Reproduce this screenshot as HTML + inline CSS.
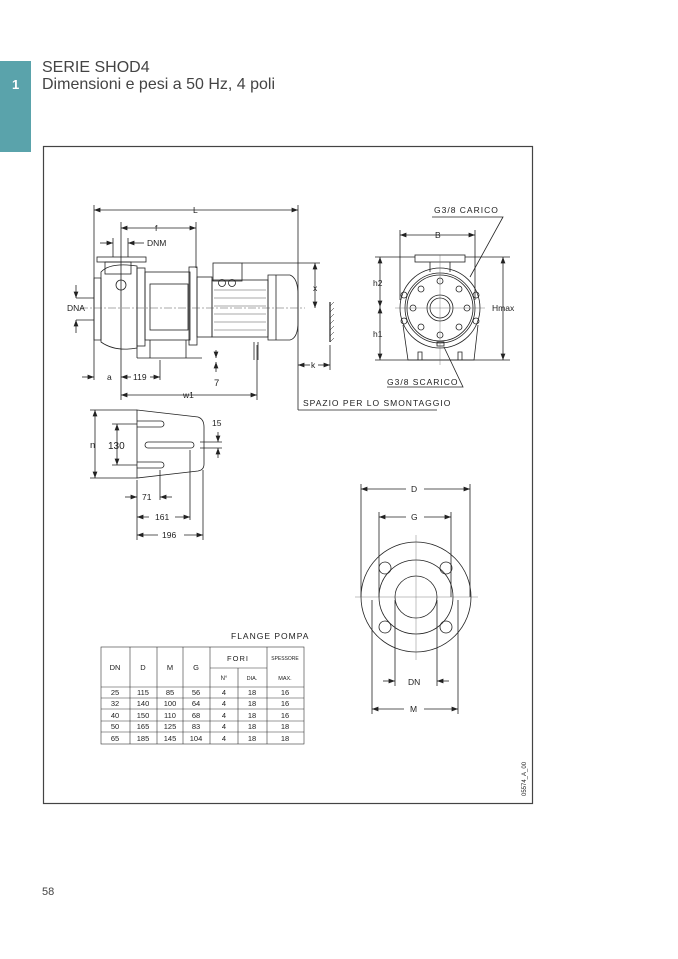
<!DOCTYPE html>
<html><head><meta charset="utf-8"><style>
html,body{margin:0;padding:0;background:#fff;}
body{width:678px;height:959px;position:relative;overflow:hidden;font-family:"Liberation Sans",sans-serif;}
.bar{position:absolute;left:0;top:61px;width:31px;height:91px;background:#5aa3ab;}
.num{position:absolute;left:12px;top:77px;color:#fff;font-weight:bold;font-size:13px;}
.t1{position:absolute;left:42px;top:59px;font-size:16px;color:#444;line-height:17px;}
.pg{position:absolute;left:42px;top:886px;font-size:11px;color:#444;}
svg{position:absolute;left:0;top:0;}
text{font-family:"Liberation Sans",sans-serif;fill:#222;}
</style></head><body>
<div class="bar"></div><div class="num">1</div>
<div class="t1">SERIE SHOD4<br>Dimensioni e pesi a 50 Hz, 4 poli</div>
<div class="pg">58</div>
<svg width="678" height="959" viewBox="0 0 678 959" font-size="8.5">
<defs><marker id="a" viewBox="0 0 8 6" refX="8" refY="3" markerWidth="8" markerHeight="6" orient="auto-start-reverse"><path d="M0,0L8,3L0,6z" fill="#222"/></marker></defs>
<rect x="43.5" y="146.5" width="489" height="657" fill="none" stroke="#444" stroke-width="1.2"/>
<g stroke="#222" stroke-width="0.8" fill="none">
<line x1="94" y1="210" x2="298" y2="210" marker-start="url(#a)" marker-end="url(#a)"/>
<line x1="94" y1="205" x2="94" y2="380"/><line x1="298" y1="205" x2="298" y2="410"/>
<line x1="121" y1="228" x2="196" y2="228" marker-start="url(#a)" marker-end="url(#a)"/>
<line x1="121" y1="222" x2="121" y2="400"/><line x1="196" y1="222" x2="196" y2="268"/>
<line x1="100" y1="243" x2="113" y2="243" marker-end="url(#a)"/><line x1="144" y1="243" x2="128" y2="243" marker-end="url(#a)"/>
<line x1="113" y1="238" x2="113" y2="257"/><line x1="128" y1="238" x2="128" y2="257"/>
<rect x="97" y="257" width="49" height="5"/>
<rect x="105" y="262" width="26" height="12"/>
<path d="M94 278 H101 V340 H94 Z"/>
<path d="M101 272 Q110 262 137 266 V348 Q115 352 101 342 Z"/>
<circle cx="121" cy="285" r="5"/>
<rect x="137" y="268" width="8" height="78"/>
<rect x="145" y="272" width="45" height="68"/>
<rect x="150" y="284" width="38" height="46"/>
<rect x="189" y="267" width="8" height="78"/>
<rect x="197" y="277" width="15" height="60"/>
<rect x="213" y="263" width="29" height="18"/>
<circle cx="222" cy="283" r="3.5"/><circle cx="232" cy="283" r="3.5"/>
<rect x="212" y="280" width="56" height="57"/>
<path d="M268 275 H290 Q298 278 298 295 V322 Q298 338 290 340 H268 Z"/>
<line x1="276" y1="275" x2="276" y2="340"/>
<path d="M137 358 H202 M137 358 V340"/>
<line x1="150" y1="340" x2="150" y2="358"/><line x1="186" y1="340" x2="186" y2="358"/>
<line x1="254" y1="342" x2="254" y2="360"/><line x1="258" y1="342" x2="258" y2="360"/>
</g>
<g stroke="#555" stroke-width="0.5" fill="none">
<line x1="214" y1="290" x2="266" y2="290"/><line x1="214" y1="298" x2="266" y2="298"/><line x1="214" y1="306" x2="266" y2="306"/><line x1="214" y1="314" x2="266" y2="314"/><line x1="214" y1="322" x2="266" y2="322"/><line x1="214" y1="330" x2="266" y2="330"/>
<line x1="80" y1="308" x2="305" y2="308" stroke-dasharray="8 2 2 2"/>
</g>
<g stroke="#222" stroke-width="0.8" fill="none">
<line x1="76" y1="298" x2="94" y2="298"/><line x1="76" y1="320" x2="94" y2="320"/>
<line x1="76" y1="285" x2="76" y2="298" marker-end="url(#a)"/><line x1="76" y1="333" x2="76" y2="320" marker-end="url(#a)"/>
<line x1="242" y1="263" x2="320" y2="263"/>
<line x1="315" y1="263" x2="315" y2="308" marker-start="url(#a)" marker-end="url(#a)"/>
<line x1="330" y1="302" x2="330" y2="342" stroke-width="1.2"/>
<path d="M330 306 l4 -4 M330 312 l4 -4 M330 318 l4 -4 M330 324 l4 -4 M330 330 l4 -4 M330 336 l4 -4 M330 342 l4 -4" stroke-width="0.5"/>
<line x1="330" y1="345" x2="330" y2="370"/>
<line x1="298" y1="365" x2="310" y2="365" marker-start="url(#a)"/><line x1="330" y1="365" x2="318" y2="365" marker-start="url(#a)"/>
<line x1="82" y1="377" x2="94" y2="377" marker-end="url(#a)"/><line x1="121" y1="377" x2="131" y2="377" marker-start="url(#a)"/><line x1="150" y1="377" x2="160" y2="377" marker-end="url(#a)"/>
<line x1="160" y1="360" x2="160" y2="380"/>
<line x1="216" y1="350" x2="216" y2="358" marker-end="url(#a)"/><line x1="216" y1="372" x2="216" y2="362" marker-end="url(#a)"/>
<line x1="121" y1="395" x2="257" y2="395" marker-start="url(#a)" marker-end="url(#a)"/><line x1="257" y1="345" x2="257" y2="400"/>
<path d="M298 410 H437"/>
</g>
<text x="193" y="213">L</text><text x="155" y="231">f</text><text x="147" y="246">DNM</text>
<text x="67" y="311">DNA</text><text x="313" y="291">x</text><text x="311" y="368">k</text>
<text x="107" y="380">a</text><text x="133" y="380">119</text><text x="214" y="386" font-size="9.5">7</text><text x="183" y="398">w1</text>
<text x="303" y="406" letter-spacing="1">SPAZIO PER LO SMONTAGGIO</text>
<g stroke="#222" stroke-width="0.8" fill="none">
<path d="M432 217 H503 L470 277" />
<line x1="400" y1="235" x2="475" y2="235" marker-start="url(#a)" marker-end="url(#a)"/>
<line x1="400" y1="230" x2="400" y2="300"/><line x1="475" y1="230" x2="475" y2="300"/>
<rect x="415" y="255" width="50" height="7"/>
<path d="M430 262 V272 M450 262 V272"/>
<path d="M403 325 L408 360 H474 L478 325"/>
<circle cx="440" cy="308" r="40"/><circle cx="440" cy="308" r="35"/><circle cx="440" cy="308" r="33"/>
<circle cx="440" cy="308" r="13"/><circle cx="440" cy="308" r="10"/>
<circle cx="440" cy="281" r="3"/><circle cx="440" cy="335" r="3"/><circle cx="413" cy="308" r="3"/><circle cx="467" cy="308" r="3"/>
<circle cx="421" cy="289" r="3"/><circle cx="459" cy="289" r="3"/><circle cx="421" cy="327" r="3"/><circle cx="459" cy="327" r="3"/>
<circle cx="404" cy="295" r="3"/><circle cx="476" cy="295" r="3"/><circle cx="404" cy="321" r="3"/><circle cx="476" cy="321" r="3"/>
<rect x="437" y="342" width="7" height="4"/>
<path d="M418 360 V352 H422 V360 M458 360 V352 H462 V360"/>
<path d="M387 387 H463 L444 347"/>
<line x1="375" y1="257" x2="415" y2="257"/><line x1="375" y1="360" x2="510" y2="360"/><line x1="465" y1="257" x2="510" y2="257"/>
<line x1="380" y1="257" x2="380" y2="307" marker-start="url(#a)" marker-end="url(#a)"/>
<line x1="380" y1="307" x2="380" y2="360" marker-start="url(#a)" marker-end="url(#a)"/>
<line x1="503" y1="257" x2="503" y2="360" marker-start="url(#a)" marker-end="url(#a)"/>
</g>
<line x1="395" y1="308" x2="485" y2="308" stroke="#666" stroke-width="0.4"/>
<line x1="440" y1="255" x2="440" y2="365" stroke="#666" stroke-width="0.4"/>
<text x="434" y="213" letter-spacing="1">G3/8  CARICO</text><text x="435" y="238">B</text>
<text x="373" y="286">h2</text><text x="373" y="337">h1</text><text x="492" y="311">Hmax</text>
<text x="387" y="385" letter-spacing="1">G3/8  SCARICO</text>
<g stroke="#222" stroke-width="0.8" fill="none">
<path d="M137 410 L198 417 Q204 419 204 427 V464 Q204 470 198 471 L137 478 Z"/>
<path d="M137 421 H161 A3 3 0 0 1 161 427 H137 M137 462 H161 A3 3 0 0 1 161 468 H137 M148 442 H191 A3 3 0 0 1 191 448 H148 A3 3 0 0 1 148 442 Z"/>
<line x1="90" y1="410" x2="137" y2="410"/><line x1="90" y1="478" x2="137" y2="478"/>
<line x1="95" y1="410" x2="95" y2="478" marker-start="url(#a)" marker-end="url(#a)"/>
<line x1="112" y1="424" x2="137" y2="424"/><line x1="112" y1="465" x2="137" y2="465"/>
<line x1="117" y1="424" x2="117" y2="465" marker-start="url(#a)" marker-end="url(#a)"/>
<line x1="200" y1="442" x2="222" y2="442"/><line x1="200" y1="448" x2="222" y2="448"/>
<line x1="218" y1="432" x2="218" y2="442" marker-end="url(#a)"/><line x1="218" y1="458" x2="218" y2="448" marker-end="url(#a)"/>
<line x1="137" y1="480" x2="137" y2="540"/><line x1="160" y1="470" x2="160" y2="500"/><line x1="190" y1="450" x2="190" y2="520"/><line x1="203" y1="470" x2="203" y2="540"/>
<line x1="125" y1="497" x2="137" y2="497" marker-end="url(#a)"/><line x1="172" y1="497" x2="160" y2="497" marker-end="url(#a)"/>
<line x1="137" y1="517" x2="190" y2="517" marker-start="url(#a)" marker-end="url(#a)"/>
<line x1="137" y1="535" x2="203" y2="535" marker-start="url(#a)" marker-end="url(#a)"/>
</g>
<rect x="149" y="512" width="26" height="10" fill="#fff"/><rect x="158" y="530" width="26" height="10" fill="#fff"/>
<text x="90" y="448" font-size="9.5">n</text><text x="108" y="449" font-size="10">130</text><text x="212" y="426">15</text>
<text x="142" y="500">71</text><text x="155" y="520">161</text><text x="162" y="538">196</text>
<g stroke="#222" stroke-width="0.8" fill="none">
<circle cx="416" cy="597" r="55"/><circle cx="416" cy="597" r="37"/><circle cx="416" cy="597" r="21"/>
<circle cx="385" cy="568" r="6"/><circle cx="446" cy="568" r="6"/><circle cx="385" cy="627" r="6"/><circle cx="446" cy="627" r="6"/>
<line x1="361" y1="489" x2="470" y2="489" marker-start="url(#a)" marker-end="url(#a)"/>
<line x1="361" y1="484" x2="361" y2="597"/><line x1="470" y1="484" x2="470" y2="597"/>
<line x1="379" y1="517" x2="451" y2="517" marker-start="url(#a)" marker-end="url(#a)"/>
<line x1="379" y1="512" x2="379" y2="597"/><line x1="451" y1="512" x2="451" y2="597"/>
<line x1="395" y1="600" x2="395" y2="686"/><line x1="437" y1="600" x2="437" y2="686"/>
<line x1="383" y1="681" x2="395" y2="681" marker-end="url(#a)"/><line x1="449" y1="681" x2="437" y2="681" marker-end="url(#a)"/>
<line x1="372" y1="600" x2="372" y2="714"/><line x1="458" y1="600" x2="458" y2="714"/>
<line x1="372" y1="709" x2="458" y2="709" marker-start="url(#a)" marker-end="url(#a)"/>
</g>
<line x1="355" y1="597" x2="478" y2="597" stroke="#666" stroke-width="0.4"/><line x1="416" y1="535" x2="416" y2="660" stroke="#666" stroke-width="0.4"/>
<rect x="406" y="484" width="18" height="10" fill="#fff"/><rect x="406" y="512" width="18" height="10" fill="#fff"/><rect x="404" y="704" width="20" height="10" fill="#fff"/>
<text x="411" y="492">D</text><text x="411" y="520">G</text><text x="408" y="685">DN</text><text x="410" y="712">M</text>
<text x="231" y="639" letter-spacing="1">FLANGE POMPA</text>
<g stroke="#333" stroke-width="0.6" fill="none">
<rect x="101" y="647" width="203" height="97"/>
<line x1="101" y1="687" x2="304" y2="687"/><line x1="101" y1="698" x2="304" y2="698"/><line x1="101" y1="709" x2="304" y2="709"/><line x1="101" y1="721" x2="304" y2="721"/><line x1="101" y1="732" x2="304" y2="732"/>
<line x1="210" y1="668" x2="267" y2="668"/>
<line x1="130" y1="647" x2="130" y2="744"/><line x1="157" y1="647" x2="157" y2="744"/><line x1="183" y1="647" x2="183" y2="744"/><line x1="210" y1="647" x2="210" y2="744"/><line x1="238" y1="668" x2="238" y2="744"/><line x1="267" y1="647" x2="267" y2="744"/>
</g>
<g font-size="7.5" text-anchor="middle">
<text x="115" y="670">DN</text><text x="143" y="670">D</text><text x="170" y="670">M</text><text x="196" y="670">G</text>
<text x="238" y="661" letter-spacing="1">FORI</text><text x="285" y="660" font-size="5">SPESSORE</text>
<text x="224" y="680" font-size="6">N°</text><text x="252" y="680" font-size="5.5">DIA.</text><text x="285" y="680" font-size="5.5">MAX.</text>
</g>
<g font-size="7.5" text-anchor="middle">
<text x="115" y="695">25</text><text x="143" y="695">115</text><text x="170" y="695">85</text><text x="196" y="695">56</text><text x="224" y="695">4</text><text x="252" y="695">18</text><text x="285" y="695">16</text>
<text x="115" y="706">32</text><text x="143" y="706">140</text><text x="170" y="706">100</text><text x="196" y="706">64</text><text x="224" y="706">4</text><text x="252" y="706">18</text><text x="285" y="706">16</text>
<text x="115" y="718">40</text><text x="143" y="718">150</text><text x="170" y="718">110</text><text x="196" y="718">68</text><text x="224" y="718">4</text><text x="252" y="718">18</text><text x="285" y="718">16</text>
<text x="115" y="729">50</text><text x="143" y="729">165</text><text x="170" y="729">125</text><text x="196" y="729">83</text><text x="224" y="729">4</text><text x="252" y="729">18</text><text x="285" y="729">18</text>
<text x="115" y="741">65</text><text x="143" y="741">185</text><text x="170" y="741">145</text><text x="196" y="741">104</text><text x="224" y="741">4</text><text x="252" y="741">18</text><text x="285" y="741">18</text>
</g>
<text x="0" y="0" font-size="6" transform="translate(526,796) rotate(-90)">05574_A_00</text>
</svg>
</body></html>
